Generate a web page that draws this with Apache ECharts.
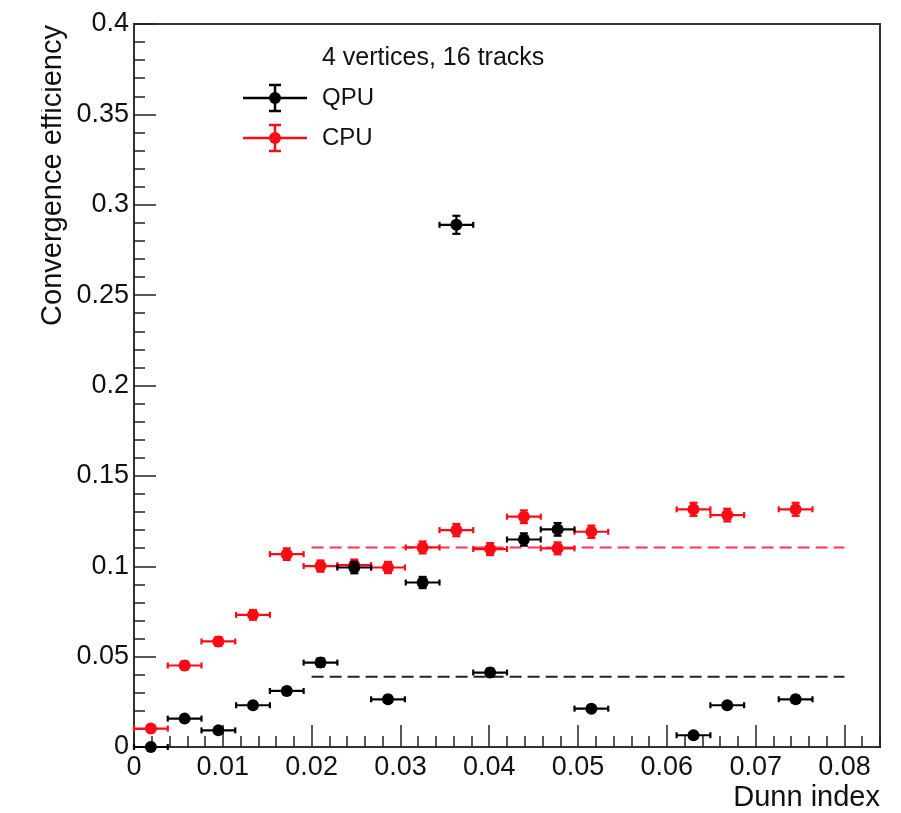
<!DOCTYPE html>
<html>
<head>
<meta charset="utf-8">
<script src="https://cdn.jsdelivr.net/npm/echarts@6/dist/echarts.min.js"></script>
<style>
  html, body { margin: 0; padding: 0; background: #fff; }
  #chart { width: 901px; height: 813px; }
</style>
</head>
<body>
<div id="chart"></div>
<script>
// Dunn-index bin centres (bins of width 0.0038 on [0, 0.084])
const binCentres = [0.0019, 0.0057, 0.0095, 0.0134, 0.0172, 0.0210, 0.0248, 0.0286, 0.0325,
                    0.0363, 0.0401, 0.0439, 0.0477, 0.0515, 0.0630, 0.0668, 0.0745];
const binHalfWidth = 0.0019;

// QPU convergence efficiency per bin and its uncertainty
const qpuEff = [0.0000, 0.0157, 0.0092, 0.0231, 0.0310, 0.0467, 0.0993, 0.0264, 0.0910,
                0.2889, 0.0412, 0.1148, 0.1204, 0.0212, 0.0065, 0.0231, 0.0264];
const qpuErr = [0.0005, 0.0015, 0.0012, 0.0018, 0.0020, 0.0024, 0.0032, 0.0019, 0.0031,
                0.0050, 0.0022, 0.0034, 0.0035, 0.0016, 0.0010, 0.0018, 0.0019];

// CPU convergence efficiency per bin and its uncertainty
const cpuEff = [0.0102, 0.0451, 0.0584, 0.0731, 0.1067, 0.1001, 0.1006, 0.0993, 0.1104,
                0.1200, 0.1095, 0.1274, 0.1099, 0.1191, 0.1315, 0.1283, 0.1315];
const cpuErr = [0.0011, 0.0022, 0.0024, 0.0027, 0.0032, 0.0031, 0.0031, 0.0031, 0.0033,
                0.0034, 0.0033, 0.0035, 0.0033, 0.0034, 0.0036, 0.0035, 0.0036];

// Average efficiency over the upper Dunn-index range
const meanRange = [0.02, 0.08];
const qpuMean = 0.0388;
const cpuMean = 0.1104;

// Axis ranges and tick steps
const xRange = [0, 0.084];
const yRange = [0, 0.4];
const xMajor = 0.01, xMinor = 0.002;
const yMajor = 0.05, yMinor = 0.01;

const RED = '#ff0a14';
const BLACK = '#000000';
const FONT = 'Liberation Sans, Arial, Helvetica, sans-serif';

function rows(eff, err) {
  return binCentres.map((x, i) => [x, eff[i], binHalfWidth, err[i]]);
}

function errorBars(color) {
  return function (params, api) {
    const x = api.value(0), y = api.value(1), ex = api.value(2), ey = api.value(3);
    const c = api.coord([x, y]);
    const l = api.coord([x - ex, y])[0];
    const r = api.coord([x + ex, y])[0];
    const t = api.coord([x, y + ey])[1];
    const b = api.coord([x, y - ey])[1];
    const hc = 3, vc = 4;
    const style = { stroke: color, lineWidth: 2.2 };
    const seg = (x1, y1, x2, y2) => ({ type: 'line', shape: { x1, y1, x2, y2 }, style });
    return {
      type: 'group',
      children: [
        seg(l, c[1], r, c[1]),
        seg(l, c[1] - hc, l, c[1] + hc),
        seg(r, c[1] - hc, r, c[1] + hc),
        seg(c[0], t, c[0], b),
        seg(c[0] - vc, t, c[0] + vc, t),
        seg(c[0] - vc, b, c[0] + vc, b)
      ]
    };
  };
}

const fmt = v => String(Math.round(v * 1000) / 1000);

const tickColor = '#222';
function axisPair(kind, range, major, minor) {
  const common = {
    type: 'value', min: range[0], max: range[1],
    axisLine: { show: false }, splitLine: { show: false }
  };
  return [
    Object.assign({}, common, {
      interval: major,
      axisTick: { inside: true, length: 22, lineStyle: { color: tickColor, width: 1.5 } },
      axisLabel: {
        fontSize: 27, color: '#111', fontFamily: FONT,
        margin: kind === 'x' ? 7 : 5, showMaxLabel: kind === 'y', formatter: fmt
      }
    }),
    Object.assign({}, common, {
      interval: minor,
      axisTick: { inside: true, length: 11, lineStyle: { color: tickColor, width: 1.5 } },
      axisLabel: { show: false }
    })
  ];
}

const xAxes = axisPair('x', xRange, xMajor, xMinor);
xAxes[0].position = 'bottom'; xAxes[1].position = 'bottom'; xAxes[1].offset = 0;
const yAxes = axisPair('y', yRange, yMajor, yMinor);
yAxes[0].position = 'left'; yAxes[1].position = 'left'; yAxes[1].offset = 0;

// Legend glyphs: line with horizontal/vertical bar and marker
function legendEntry(cx, cy, color, label) {
  const st = { stroke: color, lineWidth: 2.5 };
  return [
    { type: 'line', shape: { x1: 243, y1: cy, x2: 307, y2: cy }, style: st },
    { type: 'line', shape: { x1: cx, y1: cy - 13, x2: cx, y2: cy + 13 }, style: st },
    { type: 'line', shape: { x1: cx - 6, y1: cy - 13, x2: cx + 6, y2: cy - 13 }, style: st },
    { type: 'line', shape: { x1: cx - 6, y1: cy + 13, x2: cx + 6, y2: cy + 13 }, style: st },
    { type: 'circle', shape: { cx: cx, cy: cy, r: 6 }, style: { fill: color } },
    { type: 'text', x: 322, y: cy, style: { text: label, font: '24px ' + FONT, fill: '#111', textVerticalAlign: 'middle' } }
  ];
}

const chart = echarts.init(document.getElementById('chart'), null, { renderer: 'canvas' });
chart.setOption({
  backgroundColor: '#fff',
  animation: false,
  grid: {
    left: 134, right: 21, top: 24, bottom: 66,
    show: true, borderColor: '#333', borderWidth: 2, backgroundColor: 'transparent'
  },
  xAxis: xAxes,
  yAxis: yAxes,
  series: [
    {
      name: 'CPU mean', type: 'line', xAxisIndex: 0, yAxisIndex: 0, symbol: 'none',
      data: [[meanRange[0], cpuMean], [meanRange[1], cpuMean]],
      lineStyle: { color: '#ff3355', width: 2, type: [12, 6] }, z: 1
    },
    {
      name: 'QPU mean', type: 'line', xAxisIndex: 0, yAxisIndex: 0, symbol: 'none',
      data: [[meanRange[0], qpuMean], [meanRange[1], qpuMean]],
      lineStyle: { color: '#222', width: 2, type: [12, 6] }, z: 1
    },
    {
      name: 'CPU bars', type: 'custom', xAxisIndex: 0, yAxisIndex: 0,
      renderItem: errorBars(RED), data: rows(cpuEff, cpuErr), clip: false, z: 2
    },
    {
      name: 'CPU', type: 'scatter', xAxisIndex: 0, yAxisIndex: 0,
      data: binCentres.map((x, i) => [x, cpuEff[i]]),
      symbol: 'circle', symbolSize: 12, itemStyle: { color: RED, opacity: 1 }, z: 3
    },
    {
      name: 'QPU bars', type: 'custom', xAxisIndex: 0, yAxisIndex: 0,
      renderItem: errorBars(BLACK), data: rows(qpuEff, qpuErr), clip: false, z: 4
    },
    {
      name: 'QPU', type: 'scatter', xAxisIndex: 0, yAxisIndex: 0,
      data: binCentres.map((x, i) => [x, qpuEff[i]]),
      symbol: 'circle', symbolSize: 12, itemStyle: { color: BLACK, opacity: 1 }, z: 5
    }
  ],
  graphic: [
    {
      type: 'text', x: 53, y: 25, rotation: Math.PI / 2,
      style: { text: 'Convergence efficiency', font: '29px ' + FONT, fill: '#111', textAlign: 'right', textVerticalAlign: 'middle' }
    },
    { type: 'rect', shape: { x: 0, y: 0, width: 41, height: 813 }, style: { fill: '#fff' }, z: 100 },
    {
      type: 'text', x: 880, y: 798,
      style: { text: 'Dunn index', font: '29px ' + FONT, fill: '#111', textAlign: 'right', textVerticalAlign: 'middle' }
    },
    {
      type: 'text', x: 322, y: 58,
      style: { text: '4 vertices, 16 tracks', font: '25px ' + FONT, fill: '#111', textVerticalAlign: 'middle' }
    }
  ].concat(legendEntry(275, 98, BLACK, 'QPU'), legendEntry(275, 138, RED, 'CPU'))
});
</script>
</body>
</html>
